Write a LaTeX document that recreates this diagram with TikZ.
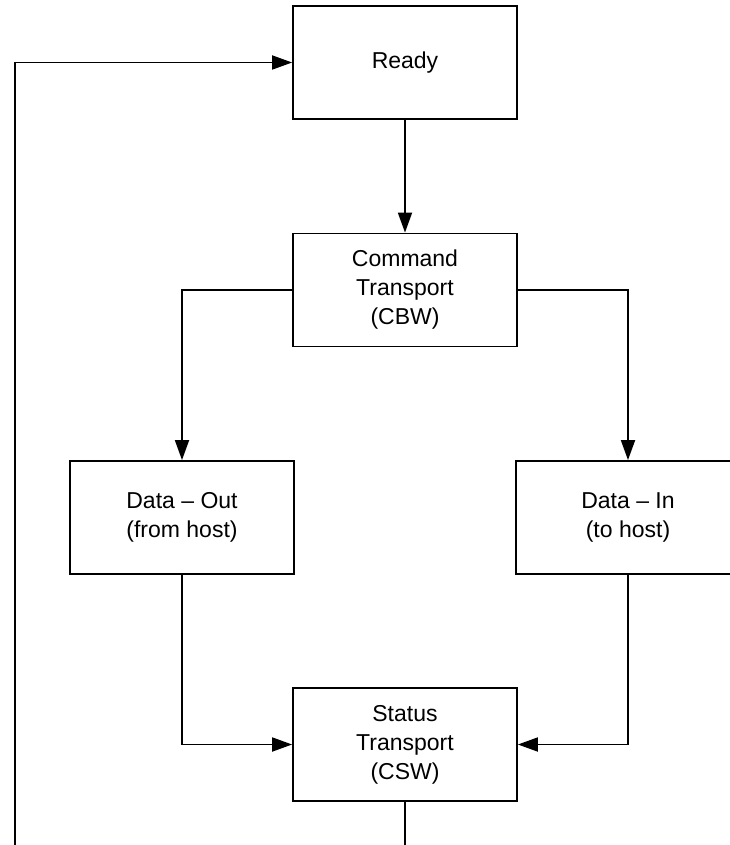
\documentclass[tikz,border=0pt]{standalone}
\usepackage{fontspec}
\setmainfont{Liberation Sans}
\usetikzlibrary{arrows.meta}
\usetikzlibrary{positioning}

\begin{document}
\begin{tikzpicture}[
    x=1pt, y=-1pt,
    state/.style={draw, line width=1.8pt, minimum width=224pt,
      minimum height=113pt, inner sep=0pt, align=center,
      font=\fontsize{23}{29}\selectfont},
    flow/.style={line width=1.8pt, -{Triangle[length=20pt,width=14pt]}}]

    \useasboundingbox (0,0) rectangle (729,845);

    \node [state] (ready) at (405,62.5) {Ready};
    \node [state] (cbw) at (405,290) {Command\\Transport\\(CBW)};
    \node [state] (dataout) at (182,517.5) {Data -- Out\\(from host)};
    \node [state] (datain) at (628,517.5) {Data -- In\\(to host)};
    \node [state] (csw) at (405,744.5) {Status\\Transport\\(CSW)};

    % loop back to ready, runs off the bottom edge
    \coordinate (loopdown) at (405,845);
    \coordinate (loopup) at (15,845);

    \draw [flow] (ready) -- (cbw);
    \draw [flow] (cbw.west) -| (dataout.north);
    \draw [flow] (cbw.east) -| (datain.north);
    \draw [flow] (dataout.south) |- (csw.west);
    \draw [flow] (datain.south) |- (csw.east);
    \draw [line width=1.8pt] (csw.south) -- (loopdown);
    \draw [flow] (loopup) |- (ready.west);

  \end{tikzpicture}
\end{document}
